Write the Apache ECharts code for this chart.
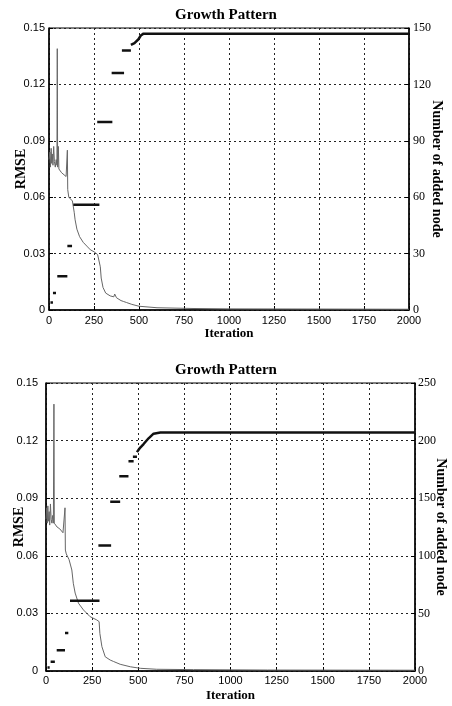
<!DOCTYPE html>
<html>
<head>
<meta charset="utf-8">
<script src="https://cdn.jsdelivr.net/npm/echarts@6/dist/echarts.min.js"></script>
<style>
html, body { margin: 0; padding: 0; background: #fff; }
#main { width: 452px; height: 706px; }
</style>
</head>
<body>
<div id="main"></div>
<script>
// top chart: RMSE curve (left axis)
var rmseIter1 = [0, 5, 8, 12, 15, 18, 22, 26, 30, 35, 40, 44, 46, 48, 52, 55, 60, 70, 80, 95, 100, 102, 104, 110, 120, 130, 135, 140, 145, 155, 170, 190, 210, 230, 250, 270, 280, 285, 290, 300, 315, 340, 360, 365, 375, 400, 415, 420, 430, 460, 500, 600, 800, 1000, 1500, 2000];
var rmseVal1 = [0.080, 0.084, 0.076, 0.086, 0.078, 0.083, 0.077, 0.087, 0.079, 0.076, 0.080, 0.077, 0.139, 0.076, 0.087, 0.075, 0.074, 0.073, 0.072, 0.071, 0.071, 0.085, 0.064, 0.060, 0.059, 0.058, 0.057, 0.052, 0.048, 0.043, 0.039, 0.036, 0.034, 0.032, 0.031, 0.0295, 0.029, 0.023, 0.017, 0.012, 0.009, 0.0075, 0.007, 0.0085, 0.0065, 0.005, 0.0045, 0.0055, 0.004, 0.003, 0.002, 0.0012, 0.0008, 0.0006, 0.0005, 0.0004];
// top chart: added nodes (right axis), flat steps then a final ramp
var segStart1 = [8, 22, 46, 102, 135, 268, 348, 405];
var segEnd1 = [22, 39, 102, 128, 280, 352, 417, 455];
var segNodes1 = [4, 9, 18, 34, 56, 100, 126, 138];
var tailIter1 = [455, 475, 497, 510, 525, 2000];
var tailNodes1 = [141, 142, 144, 146, 147, 147];

// bottom chart
var rmseIter2 = [0, 4, 7, 10, 13, 17, 20, 24, 28, 32, 36, 40, 43, 45, 50, 60, 75, 92, 100, 103, 105, 110, 125, 140, 148, 158, 176, 203, 239, 275, 288, 292, 303, 321, 348, 355, 365, 402, 457, 511, 600, 800, 1200, 2000];
var rmseVal2 = [0.079, 0.085, 0.077, 0.086, 0.078, 0.083, 0.076, 0.087, 0.079, 0.077, 0.081, 0.077, 0.139, 0.077, 0.076, 0.075, 0.074, 0.072, 0.072, 0.085, 0.063, 0.061, 0.058, 0.0526, 0.0457, 0.0406, 0.0353, 0.0318, 0.0283, 0.0266, 0.0257, 0.0196, 0.0127, 0.0074, 0.0057, 0.0062, 0.005, 0.0035, 0.0022, 0.0014, 0.0009, 0.0007, 0.0005, 0.0004];
var segStart2 = [8, 25, 58, 103, 130, 284, 348, 397, 447, 471];
var segEnd2 = [20, 48, 103, 121, 290, 353, 402, 447, 475, 493];
var segNodes2 = [3, 8, 18, 33, 61, 109, 147, 169, 182, 186];
var tailIter2 = [493, 502, 511, 529, 556, 583, 620, 2000];
var tailNodes2 = [190, 192, 194, 197, 202, 206, 207, 207];

var xTicks = { min: 0, max: 2000, interval: 250 };

function pairs(xs, ys) {
    var d = [];
    for (var i = 0; i < xs.length; i++) d.push([xs[i], ys[i]]);
    return d;
}

function nodeData(starts, ends, counts, tailX, tailY) {
    var d = [];
    for (var i = 0; i < starts.length; i++) {
        d.push([starts[i], counts[i]]);
        d.push([ends[i], counts[i]]);
        d.push([ends[i], '-']);
    }
    return d.concat(pairs(tailX, tailY));
}

var dotted = { color: '#222', width: 1, type: [2, 3] };
var serif = 'Liberation Serif';
var sans = 'Liberation Sans';

function xAxisFor(grid, labelMargin, nameGap) {
    return {
        type: 'value', gridIndex: grid,
        min: xTicks.min, max: xTicks.max, interval: xTicks.interval,
        name: 'Iteration', nameLocation: 'middle', nameGap: nameGap,
        nameTextStyle: { fontFamily: serif, fontWeight: 'bold', fontSize: 13, color: '#000' },
        axisLine: { lineStyle: { color: '#000', width: 1.5 } },
        axisTick: { inside: true, length: 4, lineStyle: { color: '#000' } },
        axisLabel: {
            fontFamily: sans, fontSize: 11, color: '#000', margin: labelMargin,
            formatter: function (v) { return String(v); }
        },
        splitLine: { show: true, lineStyle: dotted }
    };
}

function leftAxis(grid, margin, gap) {
    return {
        type: 'value', gridIndex: grid, position: 'left',
        min: 0, max: 0.15, interval: 0.03,
        name: 'RMSE', nameLocation: 'middle', nameRotate: 90, nameGap: gap, nameMoveOverlap: false,
        nameTextStyle: { fontFamily: serif, fontWeight: 'bold', fontSize: 14, color: '#000' },
        axisLine: { show: true, lineStyle: { color: '#000', width: 1.5 } },
        axisTick: { inside: true, length: 4, lineStyle: { color: '#000' } },
        axisLabel: {
            fontFamily: sans, fontSize: 11, color: '#000', margin: margin,
            formatter: function (v) { return v === 0 ? '0' : v.toFixed(2); }
        },
        splitLine: { show: true, lineStyle: dotted }
    };
}

function rightAxis(grid, max, step, margin, gap) {
    return {
        type: 'value', gridIndex: grid, position: 'right',
        min: 0, max: max, interval: step,
        name: 'Number of added node', nameLocation: 'middle', nameRotate: -90, nameGap: gap, nameMoveOverlap: false,
        nameTextStyle: { fontFamily: serif, fontWeight: 'bold', fontSize: 14, color: '#000' },
        axisLine: { show: true, lineStyle: { color: '#000', width: 1.5 } },
        axisTick: { inside: true, length: 4, lineStyle: { color: '#000' } },
        axisLabel: { fontFamily: serif, fontSize: 12, color: '#000', margin: margin },
        splitLine: { show: false }
    };
}

var titleStyle = { fontFamily: serif, fontWeight: 'bold', fontSize: 15, color: '#000' };

var option = {
    animation: false,
    backgroundColor: '#fff',
    title: [
        { text: 'Growth Pattern', left: 'center', top: 3, textStyle: titleStyle },
        { text: 'Growth Pattern', left: 'center', top: 358, textStyle: titleStyle }
    ],
    grid: [
        { left: 49, right: 43, top: 28, height: 282, show: true, borderColor: '#000', borderWidth: 1,
          containLabel: false, outerBoundsMode: 'none' },
        { left: 46, right: 37, top: 383, height: 288, show: true, borderColor: '#000', borderWidth: 1,
          containLabel: false, outerBoundsMode: 'none' }
    ],
    xAxis: [xAxisFor(0, 5, 17), xAxisFor(1, 4, 18)],
    yAxis: [
        leftAxis(0, 4, 21),
        rightAxis(0, 150, 30, 4, 21),
        leftAxis(1, 8, 20),
        rightAxis(1, 250, 50, 3, 19)
    ],
    series: [
        {
            name: 'RMSE', type: 'line', xAxisIndex: 0, yAxisIndex: 0,
            data: pairs(rmseIter1, rmseVal1), showSymbol: false,
            lineStyle: { color: '#666', width: 1 }
        },
        {
            name: 'Nodes', type: 'line', xAxisIndex: 0, yAxisIndex: 1,
            data: nodeData(segStart1, segEnd1, segNodes1, tailIter1, tailNodes1),
            showSymbol: false, connectNulls: false,
            lineStyle: { color: '#111', width: 2.5 }
        },
        {
            name: 'RMSE', type: 'line', xAxisIndex: 1, yAxisIndex: 2,
            data: pairs(rmseIter2, rmseVal2), showSymbol: false,
            lineStyle: { color: '#666', width: 1 }
        },
        {
            name: 'Nodes', type: 'line', xAxisIndex: 1, yAxisIndex: 3,
            data: nodeData(segStart2, segEnd2, segNodes2, tailIter2, tailNodes2),
            showSymbol: false, connectNulls: false,
            lineStyle: { color: '#111', width: 2.5 }
        }
    ]
};

var chart = echarts.init(document.getElementById('main'));
chart.setOption(option);
</script>
</body>
</html>
